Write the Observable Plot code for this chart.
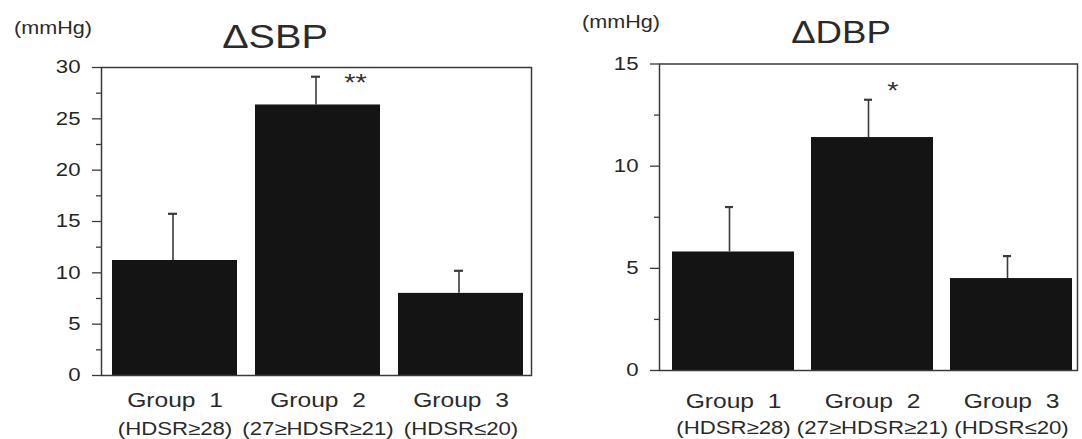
<!DOCTYPE html>
<html>
<head>
<meta charset="utf-8">
<script src="https://cdn.jsdelivr.net/npm/d3@7"></script>
<script src="https://cdn.jsdelivr.net/npm/@observablehq/plot@0.6"></script>
<style>
  html, body { margin: 0; padding: 0; background: #ffffff; }
  #chart { position: relative; width: 1082px; height: 439px; overflow: hidden; }
  #chart svg { position: absolute; top: 0; }
</style>
</head>
<body>
<div id="chart"></div>
<script>
// ---- data ----
const groups = ["Group 1", "Group 2", "Group 3"];
const groupNames = ["Group\u00a0\u00a01", "Group\u00a0\u00a02", "Group\u00a0\u00a03"];
const criteria = ["(HDSR\u226528)", "(27\u2265HDSR\u226521)", "(HDSR\u226420)"];

const sbpMean = [11.2, 26.35, 8.0];
const sbpSE = [4.55, 2.75, 2.2];
const sbpSig = ["", "**", ""];
const sbpTicks = [0, 5, 10, 15, 20, 25, 30];
const sbpMinor = [2.5, 7.5, 12.5, 17.5, 22.5, 27.5];

const dbpMean = [5.8, 11.4, 4.5];
const dbpSE = [2.2, 1.85, 1.1];
const dbpSig = ["", "*", ""];
const dbpTicks = [0, 5, 10, 15];
const dbpMinor = [2.5, 7.5, 12.5];

const unitLabel = "(mmHg)";
const sbpTitle = "\u0394SBP";
const dbpTitle = "\u0394DBP";

// ---- drawing ----
const FONT = "'Liberation Sans', Arial, Helvetica, sans-serif";
const STRETCH = 1.2;

function stretchText(svg) {
  d3.select(svg).selectAll("text").each(function () {
    const t = d3.select(this);
    const ax = +t.attr("x") || 0, ay = +t.attr("y") || 0;
    const tr = t.attr("transform") || "";
    t.attr("transform", `${tr} translate(${ax},${ay}) scale(${STRETCH},1) translate(${-ax},${-ay})`);
  });
}

function panel(o) {
  const rows = groups.map((g, i) => ({
    group: g, mean: o.mean[i], upper: o.mean[i] + o.se[i],
    name: groupNames[i], crit: criteria[i], sig: o.sig[i]
  }));
  const svg = Plot.plot({
    width: 541, height: 439,
    marginLeft: o.ml, marginRight: o.mr, marginTop: o.mt, marginBottom: o.mb,
    style: { fontFamily: FONT, fontSize: "18.5px", color: "#262626", background: "transparent", overflow: "visible" },
    x: { domain: groups, paddingInner: o.pi, paddingOuter: o.po, align: o.align, axis: null },
    y: { domain: o.domain, axis: null },
    marks: [
      Plot.barY(rows, { x: "group", y: "mean", fill: "#141414" }),
      Plot.ruleX(rows, { x: "group", y1: "mean", y2: "upper", stroke: "#3a3a3a", strokeWidth: 1.6, dx: o.edx }),
      Plot.tickY(rows, { x: "group", y: "upper", stroke: "#3a3a3a", strokeWidth: 2.2, insetLeft: o.cap, insetRight: o.cap, dx: o.edx }),
      Plot.frame({ stroke: "#3a3a3a", strokeWidth: 1.5 }),
      Plot.axisY(o.ticks, { tickSize: 9, tickPadding: 12, label: null, stroke: "#3a3a3a", strokeWidth: 1.3 }),
      Plot.axisY(o.minor, { tickSize: 5, tickFormat: () => "", label: null, stroke: "#3a3a3a", strokeWidth: 1.3 }),
      Plot.text(rows, { x: "group", y: "upper", text: "sig", dx: o.sdx, dy: o.sdy, fontSize: 24, fill: "#333" }),
      Plot.text(rows, { x: "group", text: "name", frameAnchor: "bottom", lineAnchor: "middle", dy: o.l1, fontSize: 20.5, fill: "#2a2a2a" }),
      Plot.text(rows, { x: "group", text: "crit", frameAnchor: "bottom", lineAnchor: "middle", dy: o.l2, fontSize: 18.5, fill: "#2a2a2a" }),
      Plot.text([o.title], { frameAnchor: "top", lineAnchor: "middle", dx: o.tdx, dy: o.tdy, fontSize: o.tfs, fill: "#2a2a2a" }),
      Plot.text([unitLabel], { frameAnchor: "top-left", lineAnchor: "middle", textAnchor: "middle", dx: o.udx, dy: o.udy, fontSize: 18, fill: "#2a2a2a" })
    ]
  });
  stretchText(svg);
  svg.style.left = o.left + "px";
  return svg;
}

const chart = document.getElementById("chart");

chart.appendChild(panel({
  left: 0, ml: 101, mr: 10, mt: 67, mb: 64,
  pi: 0.1226, po: 0.063, align: 0.57,
  domain: [0, 30], ticks: sbpTicks, minor: sbpMinor,
  mean: sbpMean, se: sbpSE, sig: sbpSig,
  edx: -2, cap: 58, sdx: 37.5, sdy: 7,
  l1: 25.3, l2: 53.5,
  title: sbpTitle, tfs: 33, tdx: -41.5, tdy: -30,
  udx: -48.5, udy: -38.8
}));

chart.appendChild(panel({
  left: 541, ml: 118, mr: 5, mt: 63.5, mb: 69,
  pi: 0.124, po: 0.055, align: 0.73,
  domain: [0, 15], ticks: dbpTicks, minor: dbpMinor,
  mean: dbpMean, se: dbpSE, sig: dbpSig,
  edx: -4, cap: 57, sdx: 20.4, sdy: -8.2,
  l1: 31, l2: 58,
  title: dbpTitle, tfs: 30.5, tdx: -27.5, tdy: -31,
  udx: -38.5, udy: -41.3
}));
</script>
</body>
</html>
